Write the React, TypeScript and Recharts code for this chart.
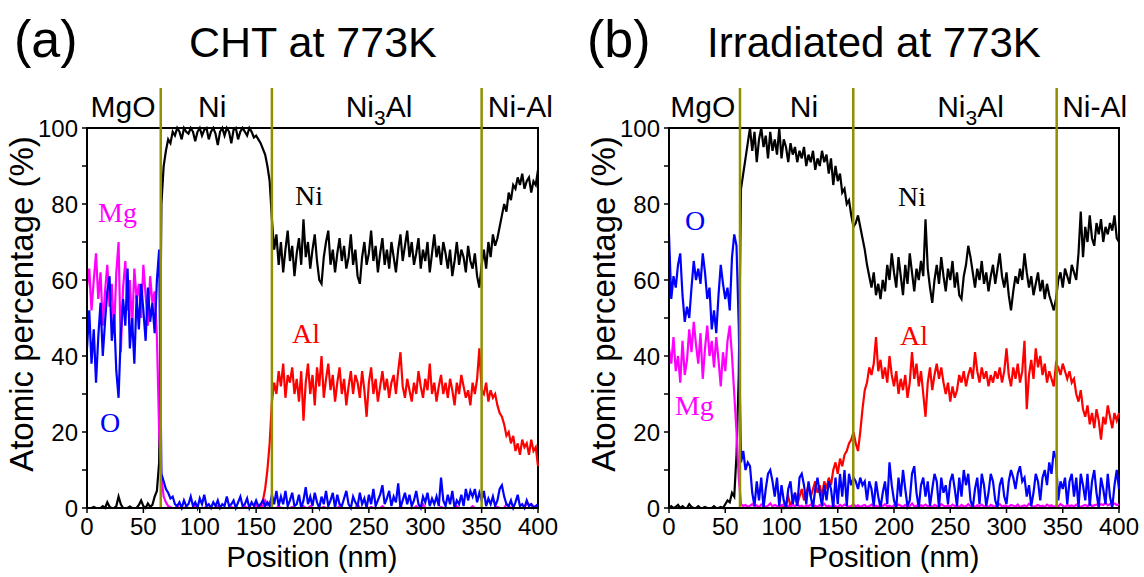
import React from 'react';
import { LineChart, Line, XAxis, YAxis, ReferenceLine, ReferenceArea, ReferenceDot } from 'recharts';

// Position grid (nm): one sample every 2 nm, 0..400
const POSITION_STEP_NM = 2;

// ---------- Panel (a): CHT at 773K ----------
const NI_A = [
  0,0,0,0.3,0,0,0,0.5,0,1.5, 0.3,0,0,0.5,3,1,0,0,0,0.4, 0,0,0,0.8,2,0.5,0,1.2,0.3,0.8, 3,4.5,12,
  80,90,94,97,96,99,98,100,99,97, 100,99,98.5,100,99,96.5,99,100,98,99.5, 100,97,99,100,98.5,95.5,99,100,98,100,
  99,96,99.5,100,97,99,100,99,98,100, 99,97.5,98,97,96,94.5,93,90,86,76, 68,
  72,64,70,62,68,73,65,69,61,67, 71,64,76,66,70,63,68,72,65,60, 59,66,70,73,64,68,62,67,71,65,
  69,63,66,72,64,68,61,59,66,70, 64,67,73,65,69,62,67,71,64,68, 63,70,66,62,68,72,65,69,73,66,
  70,64,67,71,63,68,65,70,62,67, 72,66,69,64,70,67,63,68,61,65, 70,64,68,66,62,69,65,63,67,61,
  58,64,
  68,63,70,66,72,69,71,74,77,80, 78,83,81,85,84,87,85,88,84,86, 87,83,86,85,89,
];
const AL_A = [
  0,0,0,0,0,0,0,0,0,0, 0,0,0,0,0,0,0,0,0,0, 0,0,0,0,0,0,0,0,0,0, 0,0,0,0,0,0,0,0,0,0,
  0,0,0,0,0,0,0,0,0,0, 0,0,0,0,0,0,0,0,0,0, 0,0,0,0,0,0,0,0,0,0, 0,0,0,0,0,0,0,
  0.5,2,5,10,17,28,33,30,36,32,38,29,35,33,
  37,30,34,28,36,23,33,38,30,35, 27,37,32,40,29,34,38,31,35,28, 33,37,30,34,27,32,36,30,35,33,
  29,36,31,24,33,37,30,34,28,32, 36,31,34,29,33,35,30,36,41,32, 29,34,31,28,33,30,36,32,29,34,
  31,38,30,33,28,32,35,30,33,29, 34,31,27,33,30,35,32,29,31,27, 33,30,34,42,31,
  30,33,28,31,29,30,27,25,24,22, 19,20,17,19,15,17,14,18,16,17, 14,18,15,16,11,
];
const MG_A = [
  58,63,52,60,67,55,62,48,57,64, 53,59,46,62,70,41,58,65,52,60, 47,63,55,59,50,64,56,48,61,54, 57,45,
  20,8,3,1.5,0.5,0.2,
  0,0,0.5,0,0,0,0.3,0,0,0, 1,0,0,0,0,0.3,0,0,0,0, 0.5,0,0,0,0,0,0.3,0,0,0, 0,0,0.5,0,0,0,0,1,0,0,
  0.5,2,0.8,1.5,0,0,0,0.5,0,0, 0,0,0,0.3,0,0,0,0,0.5,0, 0,0.5,0,0,0,0,0,0.3,0,0, 0,0,0,0,0.5,0,0,0,0,0,
  0,0,1,0,0,0,0,0,0.3,0, 0,0,0,0.5,0,0,0,0,0,0, 0,0.3,0,0,0,0,0,0,0.5,0, 0,1,0,0,0,0,0,0,0,0.3,
  0,0,0,0,0,0,0.5,0,0,0, 0,0,0,0.5,0,0,0,0,0,0, 0,0,0,0,0.3,0,0,0,1,0.5, 0,0,0,0,0,0,0,1.5,0.8,1,
  0.5,0,0,
];
const O_A = [
  42,52,38,47,33,45,54,40,49,57, 61,44,51,36,29,46,55,48,63,42, 50,38,56,47,59,52,44,58,49,54, 46,60,68,
  9,7,5,4,2.5,3,1,0.5,1.5,0, 2,0.5,1,3,0.5,1.5,0,2.5,1,3.5, 0.5,1,0,1.5,0.5,2,0,1,0.5,3,
  0.5,1,2,0,1.5,3,0.5,1,2.5,0, 1.5,0.5,2,0.5,1,2,0.5,1.5,0.5,3.5, 1,4.5,0.5,3,1,4.5,0.5,2,4,0.5,
  1,3.5,0,2,5.5,1,3,0.5,4,1.5, 0,3,1,4.5,0.5,2,4,0,3.5,1, 0.5,2.5,4.5,1,0,3,1.5,0.5,4,1,
  2.5,0,3.5,1,5,0.5,2,3.5,6,1, 2.5,4.5,0.5,3,1.5,6.5,0,2,4,1, 3.5,0.5,2,4.5,1,0,3,1.5,4,0.5,
  2.5,1,3,0.5,8,2,0.5,3.5,1,4.5, 0,2,1,3.5,0.5,5,2,4.5,3,5, 1.5,4,2,4.5,0.5,2.5,1,3,0.5,2,
  5,6,3,1,0.5,2,0,1.5,3.5,0.5, 1,0,2,0.5,1,0,0.5,1,
];

// ---------- Panel (b): Irradiated at 773K ----------
const NI_B = [
  0,0.5,0,0.3,0.8,0,0.5,0,0,1, 0.3,0,0,0.5,0,0,0.3,0,0,0, 0.5,0,0,0.3,0,1,2,1.5,4,3, 14,35,84,
  88,92,96,100,94,99,91,97,100,95, 98,92,99,94,97,93,100,92,97,95, 91,96,93,95,91,94,92,95,90,93,
  91,94,89,92,90,94,91,93,88,92, 85,90,86,88,83,84,80,81,77,74,
  75,77,74,71,68,64,61,58,62,56, 59,55,60,57,64,60,67,62,
  58,66,61,56,64,59,67,62,57,63, 60,65,61,76,63,58,54,60,64,59, 66,61,57,63,60,65,58,62,56,55,
  61,64,69,66,62,58,63,60,65,59, 62,57,61,64,59,63,67,61,58,62, 56,52,57,61,59,63,60,67,62,58,
  61,56,59,62,57,60,55,59,56,54, 52,55,
  60,62,58,63,61,59,64,62,60,67, 78,66,74,70,77,71,69,75,72,76, 70,74,72,75,73,77,71,70,
];
const AL_B = [
  0,0,0,0,0,0,0,0,0,0, 0,0,0,0,0,0,0,0,0,0, 0,0,0,0,0,0,0,0,0,0, 0,0,0,0,0,0,0,0,0,0,
  0,0,0,0,0,0,0,0,0,0,
  0.5,0,1,3,0.5,2,4,1,3,5, 2,4,6,3,5,7,4,6,3,7, 5,8,6,10,12,9,13,11,14,15, 17,18,20,17,15,
  20,26,31,33,37,35,38,45,36,39, 34,37,33,40,35,32,36,30,34,31, 35,29,33,
  41,34,38,32,36,30,24,33,37,31, 35,38,34,37,33,30,33,28,32,29, 31,35,33,36,32,35,37,34,41,36,
  33,37,34,36,32,35,33,36,34,37, 33,36,42,35,32,37,34,38,33,36, 44,26,35,39,34,42,37,40,35,38,
  33,36,34,32,38,
  37,35,38,36,34,36,33,34,30,28, 31,26,24,27,22,25,21,26,23,18, 24,22,27,24,21,25,23,25,
];
const MG_B = [
  42,38,45,36,40,33,44,35,39,47, 41,49,43,38,46,34,42,48,40,44, 37,45,39,32,41,36,44,48,40,30, 20,8,1,
  0.5,0.8,0.3,0.6,1,0.4,0.7,0.2,0.9,0.5, 0.3,0.6,1.2,0.4,0.8,0.5,0.2,0.7,0.9,0.4,
  0.6,0.3,0.8,0.5,1,0.4,0.6,0.2,0.7,0.5, 0.9,0.4,0.6,0.3,0.8,0.5,1.1,0.4,0.6,0.3,
  0.7,0.5,0.2,0.8,0.4,0.9,0.6,0.3,0.5,1, 0.4,0.7,0.3,0.6,0.8,0.2,0.5,0.9,0.4,0.6,
  0.3,0.8,0.5,1,0.4,0.6,0.2,0.7,0.5,0.9, 0.6,0.3,0.8,0.4,0.5,1.2,0.4,0.6,0.3,0.7,
  0.5,0.9,0.4,0.6,0.2,0.8,0.5,0.3,1,0.6, 0.4,0.7,0.3,0.9,0.5,0.6,0.2,0.8,0.4,0.5,
  1,0.4,0.6,0.3,0.7,0.5,0.9,0.4,0.6,0.2, 0.8,0.5,0.3,0.7,1,0.4,0.6,0.5,0.3,0.8,
  0.6,0.4,0.9,0.2,0.5,0.7,0.4,1.1,0.6,0.3, 0.5,0.8,0.4,0.6,0.3,0.9,0.5,0.7,0.2,0.6,
  0.4,1,0.6,0.3,0.8,0.5,0.7,0.4,0.9,0.5, 0.3,0.6,0.8,0.4,1.2,0.5,0.7,0.9,0.6,1,
  0.8,1.3,0.7,1,0.9,1.2,0.8,1,
];
const O_B = [
  72,55,61,58,64,67,56,49,53,50, 58,65,60,63,59,67,62,55,58,47, 52,46,56,64,59,55,58,52,66,72, 69,48,12,
  15,10,12,11,4,0.5,7,2,8,0, 5,9,10,7,3,8,0.5,6,2,0, 5,7,1,4,0.5,8,9,6,1,7,
  3,0,5,8,4,0.5,6,2,7,5, 0,8,1,9,3,10,0.5,9,6,8, 7,5,8,6,7,2,7,5,0.5,7,
  3,0,4,7,1,12,6,2,0,8, 3,10,5,0.5,2,9,11,4,0,6, 8,3,7,0.5,5,9,7,0,8,4,
  6,1,7,9,5,0.5,8,3,10,6, 9,2,0,5,8,1,9,6,0.5,4, 9,7,2,0,6,8,3,1,7,10,
  8,5,9,11,7,8,3,6,0.5,4, 9,7,2,8,10,6,12,9,15,13, 2,7,5,8,1,7,9,3,8,0,
  9,6,2,9,0.5,7,10,4,0,8, 5,1,9,3,0,6,10,5,
];

const X_TICKS = [0, 50, 100, 150, 200, 250, 300, 350, 400];
const Y_TICKS = [0, 10, 20, 30, 40, 50, 60, 70, 80, 90, 100];

const BOUNDARIES_A = [65.4, 164, 350];
const BOUNDARIES_B = [63.1, 163.8, 344.6];

const REGIONS_A = [
  { text: 'MgO', x: 32, anchor: 'middle' },
  { text: 'Ni', x: 111, anchor: 'middle' },
  { text: 'Ni3Al', x: 259, anchor: 'middle' },
  { text: 'Ni-Al', x: 355.5, anchor: 'start' },
];
const REGIONS_B = [
  { text: 'MgO', x: 30, anchor: 'middle' },
  { text: 'Ni', x: 120, anchor: 'middle' },
  { text: 'Ni3Al', x: 268, anchor: 'middle' },
  { text: 'Ni-Al', x: 349.5, anchor: 'start' },
];

const LABELS_A = [
  { text: 'Mg', x: 9.8, y: 75.3, color: '#ff00ff' },
  { text: 'Ni', x: 184.5, y: 79.7, color: '#000000' },
  { text: 'Al', x: 181.8, y: 43.4, color: '#ff0000' },
  { text: 'O', x: 11.5, y: 20, color: '#0000ff' },
];
const LABELS_B = [
  { text: 'O', x: 14.2, y: 73.2, color: '#0000ff' },
  { text: 'Mg', x: 5.3, y: 24.5, color: '#ff00ff' },
  { text: 'Ni', x: 203.6, y: 79.5, color: '#000000' },
  { text: 'Al', x: 205.3, y: 42.9, color: '#ff0000' },
];

const SANS = "'Liberation Sans', Arial, sans-serif";
const SERIF = "'Liberation Serif', 'Times New Roman', serif";
const OLIVE = '#8f8f00';

function buildRows(ni: number[], al: number[], mg: number[], o: number[]) {
  return ni.map((v, i) => ({ x: i * POSITION_STEP_NM, ni: v, al: al[i], mg: mg[i], o: o[i] }));
}

const ROWS_A = buildRows(NI_A, AL_A, MG_A, O_A);
const ROWS_B = buildRows(NI_B, AL_B, MG_B, O_B);

function regionShape(text: string, anchor: string) {
  return (p: any) => {
    const cx = p.cx;
    const cy = p.cy;
    if (text === 'Ni3Al') {
      return (
        <text x={cx} y={cy} textAnchor={anchor as any} fontFamily={SANS} fontSize={30} fill="#000">
          Ni<tspan fontSize={21} dy={8}>3</tspan><tspan dy={-8}>Al</tspan>
        </text>
      );
    }
    return (
      <text x={cx} y={cy} textAnchor={anchor as any} fontFamily={SANS} fontSize={30} fill="#000">
        {text}
      </text>
    );
  };
}

function elementShape(text: string, color: string) {
  return (p: any) => (
    <text x={p.cx} y={p.cy} textAnchor="start" fontFamily={SERIF} fontSize={28} fill={color}>
      {text}
    </text>
  );
}

function Panel({ rows, boundaries, regions, labels, left, rightMargin }: any) {
  return (
    <div style={{ position: 'absolute', left, top: 0 }}>
      <LineChart width={560} height={577} data={rows} margin={{ top: 128, right: rightMargin, bottom: 0, left: 0 }}>
        <XAxis
          dataKey="x"
          type="number"
          domain={[0, 400]}
          ticks={X_TICKS}
          interval={0}
          height={69}
          tickSize={5}
          tickMargin={5}
          axisLine={{ stroke: '#000', strokeWidth: 2 }}
          tickLine={{ stroke: '#000', strokeWidth: 1.5 }}
          tick={{ fill: '#000', fontSize: 24, fontFamily: SANS }}
        />
        <YAxis
          type="number"
          domain={[0, 100]}
          ticks={Y_TICKS}
          interval={0}
          width={87}
          tickSize={5}
          tickMargin={4}
          axisLine={{ stroke: '#000', strokeWidth: 2 }}
          tickLine={{ stroke: '#000', strokeWidth: 1.5 }}
          tick={{ fill: '#000', fontSize: 24, fontFamily: SANS }}
          tickFormatter={(v: number) => (v % 20 === 0 ? String(v) : '')}
        />
        <Line dataKey="ni" stroke="#000000" strokeWidth={2.2} dot={false} isAnimationActive={false} />
        <Line dataKey="al" stroke="#ff0000" strokeWidth={2.2} dot={false} isAnimationActive={false} />
        <Line dataKey="mg" stroke="#ff00ff" strokeWidth={2.2} dot={false} isAnimationActive={false} />
        <Line dataKey="o" stroke="#0000ff" strokeWidth={2.2} dot={false} isAnimationActive={false} />
        <ReferenceArea x1={0} x2={400} y1={0} y2={100} fill="none" fillOpacity={0} stroke="#000" strokeWidth={2} ifOverflow="visible" />
        {boundaries.map((b: number) => (
          <ReferenceLine
            key={'b' + b}
            segment={[{ x: b, y: 0 }, { x: b, y: 110.5 }]}
            stroke={OLIVE}
            strokeWidth={2.5}
            ifOverflow="visible"
          />
        ))}
        {regions.map((r: any) => (
          <ReferenceDot key={'r' + r.text} x={r.x} y={103} r={0} ifOverflow="visible" shape={regionShape(r.text, r.anchor)} />
        ))}
        {labels.map((l: any) => (
          <ReferenceDot key={'l' + l.text} x={l.x} y={l.y} r={0} ifOverflow="visible" shape={elementShape(l.text, l.color)} />
        ))}
      </LineChart>
    </div>
  );
}

export default function App() {
  return (
    <div style={{ position: 'absolute', left: 0, top: 0, width: 1144, height: 577, background: '#fff', overflow: 'hidden' }}>
      <Panel rows={ROWS_A} boundaries={BOUNDARIES_A} regions={REGIONS_A} labels={LABELS_A} left={0} rightMargin={22} />
      <Panel rows={ROWS_B} boundaries={BOUNDARIES_B} regions={REGIONS_B} labels={LABELS_B} left={582} rightMargin={23} />
      <svg width={1144} height={577} style={{ position: 'absolute', left: 0, top: 0, pointerEvents: 'none' }}>
        <g fontFamily={SANS} fill="#000">
          <text x={14} y={57} fontSize={52}>(a)</text>
          <text x={189} y={57} fontSize={43}>CHT at 773K</text>
          <text x={587} y={57} fontSize={52}>(b)</text>
          <text x={707} y={57} fontSize={42}>Irradiated at 773K</text>
          <text transform="translate(33,304) rotate(-90)" textAnchor="middle" fontSize={33}>Atomic percentage (%)</text>
          <text transform="translate(615,304) rotate(-90)" textAnchor="middle" fontSize={33}>Atomic percentage (%)</text>
          <text x={312} y={567} textAnchor="middle" fontSize={29}>Position (nm)</text>
          <text x={894} y={567} textAnchor="middle" fontSize={29}>Position (nm)</text>
        </g>
      </svg>
    </div>
  );
}
